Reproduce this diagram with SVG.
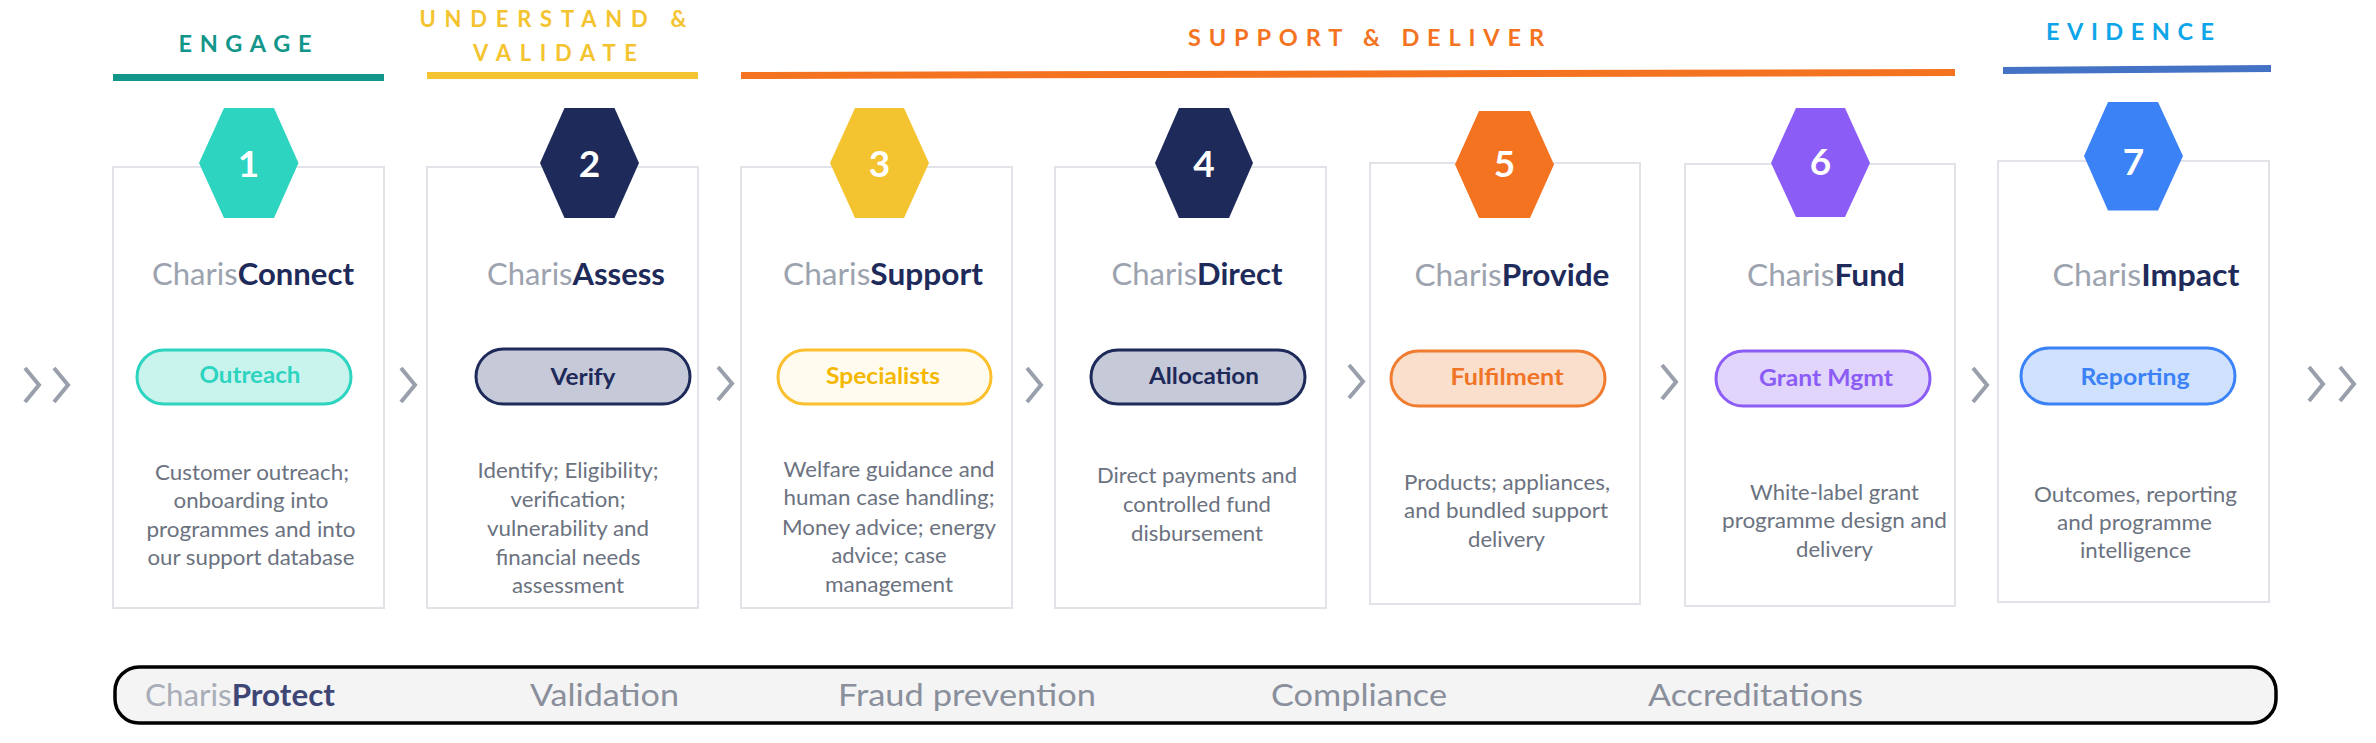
<svg xmlns="http://www.w3.org/2000/svg" width="2376" height="743" viewBox="0 0 2376 743">
<defs>
<style>
.hdr{font-family:Lato,"Liberation Sans",sans-serif;font-weight:700;text-anchor:middle}
.box{fill:#fff;stroke:#e2e3e8;stroke-width:2}
.num{font-family:Lato,"Liberation Sans",sans-serif;font-weight:700;font-size:37px;fill:#fff;text-anchor:middle}
.ttl{font-family:Lato,"Liberation Sans",sans-serif;font-size:30px;text-anchor:middle}
.ch{fill:#9ca3af}
.cb{fill:#1e2a5a;font-weight:700}
.pill{stroke-width:3}
.pt{font-family:Lato,"Liberation Sans",sans-serif;font-weight:700;font-size:22px;text-anchor:middle}
.desc{font-family:Lato,"Liberation Sans",sans-serif;font-size:20.5px;fill:#6b7280;text-anchor:middle}
.chev{fill:none;stroke:#9aa0ab;stroke-width:4;stroke-linejoin:miter}
.bl{font-family:Lato,"Liberation Sans",sans-serif;font-size:31px;fill:#8a8f9c;text-anchor:middle}
</style>
</defs>
<rect width="2376" height="743" fill="#fff"/>

<g id="phase-headers">
<text class="hdr" x="245" y="52" font-size="23.5" fill="#12968a" textLength="133" lengthAdjust="spacing">ENGAGE</text>
<rect x="113" y="74" width="271" height="7" fill="#12968a"/>
<text class="hdr" x="553" y="27" font-size="22" fill="#f4c430" textLength="267" lengthAdjust="spacing">UNDERSTAND &amp;</text>
<text class="hdr" x="555" y="61" font-size="22" fill="#f4c430" textLength="164" lengthAdjust="spacing">VALIDATE</text>
<rect x="427" y="72" width="271" height="7" fill="#f4c430"/>
<text class="hdr" x="1366" y="46" font-size="23.5" fill="#f47321" textLength="356" lengthAdjust="spacing">SUPPORT &amp; DELIVER</text>
<polygon points="741,72 1955,69 1955,76 741,79" fill="#f47321"/>
<text class="hdr" x="2130" y="40" font-size="23.5" fill="#0ea5e9" textLength="168" lengthAdjust="spacing">EVIDENCE</text>
<polygon points="2003,67 2271,65 2271,72 2003,74" fill="#4472c4"/>
</g>

<g id="node1">
<rect class="box" x="113" y="167" width="271" height="441"/>
<polygon points="224,108 274,108 298.5,163 274,218 224,218 199,163" fill="#2dd4bf"/>
<text class="num" x="248.5" y="177">1</text>
<text class="ttl" x="253" y="285" textLength="202" lengthAdjust="spacingAndGlyphs"><tspan class="ch">Charis</tspan><tspan class="cb">Connect</tspan></text>
<rect class="pill" x="137" y="350" width="214" height="54" rx="27" fill="#c9f3ed" stroke="#2dd4bf"/>
<text class="pt" x="250" y="383" fill="#2dd4bf" textLength="101" lengthAdjust="spacingAndGlyphs">Outreach</text>
<text class="desc" x="252" y="480" textLength="194" lengthAdjust="spacingAndGlyphs">Customer outreach;</text>
<text class="desc" x="251" y="508" textLength="155" lengthAdjust="spacingAndGlyphs">onboarding into</text>
<text class="desc" x="251" y="537" textLength="209" lengthAdjust="spacingAndGlyphs">programmes and into</text>
<text class="desc" x="251" y="565" textLength="207" lengthAdjust="spacingAndGlyphs">our support database</text>
</g>

<g id="node2">
<rect class="box" x="427" y="167" width="271" height="441"/>
<polygon points="564.5,108 614.5,108 639,163 614.5,218 564.5,218 540,163" fill="#1e2a5a"/>
<text class="num" x="589.5" y="177">2</text>
<text class="ttl" x="576" y="285" textLength="178" lengthAdjust="spacingAndGlyphs"><tspan class="ch">Charis</tspan><tspan class="cb">Assess</tspan></text>
<rect class="pill" x="476" y="349" width="214" height="55" rx="27.5" fill="#c6c9d7" stroke="#1e2a5a"/>
<text class="pt" x="583" y="385" fill="#1e2a5a" textLength="65" lengthAdjust="spacingAndGlyphs">Verify</text>
<text class="desc" x="568" y="478" textLength="181" lengthAdjust="spacingAndGlyphs">Identify; Eligibility;</text>
<text class="desc" x="568" y="507" textLength="115" lengthAdjust="spacingAndGlyphs">verification;</text>
<text class="desc" x="568" y="536" textLength="162" lengthAdjust="spacingAndGlyphs">vulnerability and</text>
<text class="desc" x="568" y="565" textLength="145" lengthAdjust="spacingAndGlyphs">financial needs</text>
<text class="desc" x="568" y="593" textLength="112" lengthAdjust="spacingAndGlyphs">assessment</text>
</g>

<g id="node3">
<rect class="box" x="741" y="167" width="271" height="441"/>
<polygon points="855,108 904,108 929,163 904,218 855,218 830,163" fill="#f4c430"/>
<text class="num" x="879.5" y="177">3</text>
<text class="ttl" x="883" y="285" textLength="200" lengthAdjust="spacingAndGlyphs"><tspan class="ch">Charis</tspan><tspan class="cb">Support</tspan></text>
<rect class="pill" x="778" y="350" width="213" height="54" rx="27" fill="#fffbee" stroke="#fbc02d"/>
<text class="pt" x="883" y="384" fill="#f5b800" textLength="114" lengthAdjust="spacingAndGlyphs">Specialists</text>
<text class="desc" x="889" y="477" textLength="211" lengthAdjust="spacingAndGlyphs">Welfare guidance and</text>
<text class="desc" x="889" y="505" textLength="211" lengthAdjust="spacingAndGlyphs">human case handling;</text>
<text class="desc" x="889" y="535" textLength="214" lengthAdjust="spacingAndGlyphs">Money advice; energy</text>
<text class="desc" x="889" y="563" textLength="115" lengthAdjust="spacingAndGlyphs">advice; case</text>
<text class="desc" x="889" y="592" textLength="128" lengthAdjust="spacingAndGlyphs">management</text>
</g>

<g id="node4">
<rect class="box" x="1055" y="167" width="271" height="441"/>
<polygon points="1179,108 1229,108 1253,163 1229,218 1179,218 1155,163" fill="#1e2a5a"/>
<text class="num" x="1204" y="177">4</text>
<text class="ttl" x="1197" y="285" textLength="171" lengthAdjust="spacingAndGlyphs"><tspan class="ch">Charis</tspan><tspan class="cb">Direct</tspan></text>
<rect class="pill" x="1091" y="350" width="214" height="54" rx="27" fill="#c6c9d7" stroke="#1e2a5a"/>
<text class="pt" x="1204" y="384" fill="#1e2a5a" textLength="110" lengthAdjust="spacingAndGlyphs">Allocation</text>
<text class="desc" x="1197" y="483" textLength="200" lengthAdjust="spacingAndGlyphs">Direct payments and</text>
<text class="desc" x="1197" y="512" textLength="148" lengthAdjust="spacingAndGlyphs">controlled fund</text>
<text class="desc" x="1197" y="541" textLength="132" lengthAdjust="spacingAndGlyphs">disbursement</text>
</g>

<g id="node5">
<rect class="box" x="1370" y="163" width="270" height="441"/>
<polygon points="1479,111 1530,111 1554,164.5 1530,218 1479,218 1455,164.5" fill="#f47321"/>
<text class="num" x="1504.5" y="177">5</text>
<text class="ttl" x="1512" y="286" textLength="195" lengthAdjust="spacingAndGlyphs"><tspan class="ch">Charis</tspan><tspan class="cb">Provide</tspan></text>
<rect class="pill" x="1391" y="351" width="214" height="55" rx="27.5" fill="#fadfcc" stroke="#f07c30"/>
<text class="pt" x="1507" y="385" fill="#f07426" textLength="113" lengthAdjust="spacingAndGlyphs">Fulfilment</text>
<text class="desc" x="1507" y="490" textLength="206" lengthAdjust="spacingAndGlyphs">Products; appliances,</text>
<text class="desc" x="1506" y="518" textLength="204" lengthAdjust="spacingAndGlyphs">and bundled support</text>
<text class="desc" x="1506.5" y="547" textLength="77" lengthAdjust="spacingAndGlyphs">delivery</text>
</g>

<g id="node6">
<rect class="box" x="1685" y="164" width="270" height="442"/>
<polygon points="1796,108 1845,108 1870,163 1845,217 1796,217 1771,163" fill="#8b5cf6"/>
<text class="num" x="1820.5" y="175">6</text>
<text class="ttl" x="1826" y="286" textLength="158" lengthAdjust="spacingAndGlyphs"><tspan class="ch">Charis</tspan><tspan class="cb">Fund</tspan></text>
<rect class="pill" x="1716" y="351" width="214" height="55" rx="27.5" fill="#e1d5fb" stroke="#8b5cf6"/>
<text class="pt" x="1826" y="386" fill="#8b5cf6" textLength="134" lengthAdjust="spacingAndGlyphs">Grant Mgmt</text>
<text class="desc" x="1834.5" y="500" textLength="169" lengthAdjust="spacingAndGlyphs">White-label grant</text>
<text class="desc" x="1834.5" y="528" textLength="225" lengthAdjust="spacingAndGlyphs">programme design and</text>
<text class="desc" x="1834.5" y="557" textLength="77" lengthAdjust="spacingAndGlyphs">delivery</text>
</g>

<g id="node7">
<rect class="box" x="1998" y="161" width="271" height="441"/>
<polygon points="2108,102 2158,102 2183,156 2158,210.5 2108,210.5 2084,156" fill="#3b82f6"/>
<text class="num" x="2133.5" y="175">7</text>
<text class="ttl" x="2146" y="286" textLength="187" lengthAdjust="spacingAndGlyphs"><tspan class="ch">Charis</tspan><tspan class="cb">Impact</tspan></text>
<rect class="pill" x="2021" y="348" width="214" height="56" rx="28" fill="#cfe1fd" stroke="#3b82f6"/>
<text class="pt" x="2135" y="385" fill="#3b82f6" textLength="109" lengthAdjust="spacingAndGlyphs">Reporting</text>
<text class="desc" x="2135.5" y="502" textLength="203" lengthAdjust="spacingAndGlyphs">Outcomes, reporting</text>
<text class="desc" x="2134.5" y="530" textLength="155" lengthAdjust="spacingAndGlyphs">and programme</text>
<text class="desc" x="2135.5" y="558" textLength="111" lengthAdjust="spacingAndGlyphs">intelligence</text>
</g>

<g id="connectors">
<polyline class="chev" points="25,368 39,385 25,402"/>
<polyline class="chev" points="54,368 68,385 54,402"/>
<polyline class="chev" points="401,368 415,385 401,402"/>
<polyline class="chev" points="718,367 732,383.5 718,400"/>
<polyline class="chev" points="1027,368 1041,385 1027,402"/>
<polyline class="chev" points="1349,365 1363,381.5 1349,398"/>
<polyline class="chev" points="1662,365 1676,382 1662,399"/>
<polyline class="chev" points="1973,368 1987,385 1973,402"/>
<polyline class="chev" points="2309,367 2323,384 2309,401"/>
<polyline class="chev" points="2340,367 2354,384 2340,401"/>
</g>

<g id="protect-bar">
<rect x="115" y="667" width="2161" height="56" rx="24" fill="#f4f4f4" stroke="#000" stroke-width="3.5"/>
<text class="bl" x="240" y="706" textLength="190" lengthAdjust="spacingAndGlyphs"><tspan fill="#a8adb8">Charis</tspan><tspan fill="#3d4675" font-weight="700">Protect</tspan></text>
<text class="bl" x="604.5" y="706" textLength="149" lengthAdjust="spacingAndGlyphs">Validation</text>
<text class="bl" x="967" y="706" textLength="258" lengthAdjust="spacingAndGlyphs">Fraud prevention</text>
<text class="bl" x="1359" y="706" textLength="176" lengthAdjust="spacingAndGlyphs">Compliance</text>
<text class="bl" x="1755.5" y="706" textLength="215" lengthAdjust="spacingAndGlyphs">Accreditations</text>
</g>
</svg>
